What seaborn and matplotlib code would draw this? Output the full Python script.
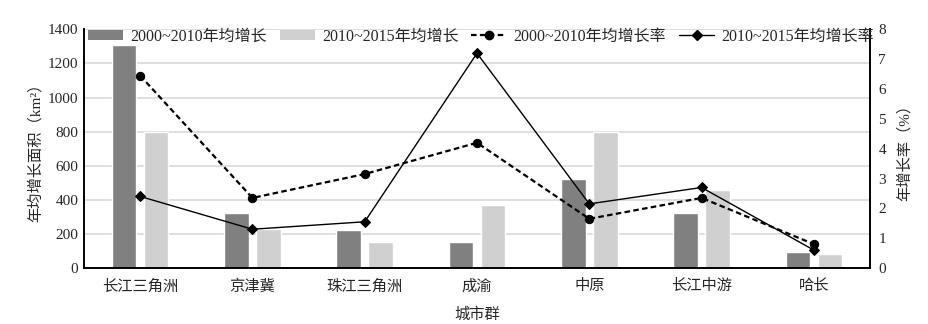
import numpy as np
import pandas as pd
import matplotlib
matplotlib.use("Agg")
import matplotlib.pyplot as plt
import seaborn as sns
from matplotlib.lines import Line2D
from matplotlib.patches import Patch

cities = ["长江三角洲", "京津冀", "珠江三角洲", "成渝", "中原", "长江中游", "哈长"]
area_2000_2010 = [1310, 320, 225, 155, 520, 320, 95]
area_2010_2015 = [800, 230, 150, 370, 800, 455, 85]
rate_2000_2010 = [6.45, 2.35, 3.15, 4.2, 1.65, 2.35, 0.8]
rate_2010_2015 = [2.4, 1.3, 1.55, 7.2, 2.15, 2.7, 0.6]
s1 = "2000~2010年均增长"
s2 = "2010~2015年均增长"
r1 = "2000~2010年均增长率"
r2 = "2010~2015年均增长率"

sns.set_theme(style="white")
plt.rcParams["font.family"] = ["Liberation Serif", "Noto Sans CJK SC"]
plt.rcParams["font.weight"] = "medium"
plt.rcParams["axes.unicode_minus"] = False

df = pd.DataFrame({
    "city": cities * 2,
    "value": area_2000_2010 + area_2010_2015,
    "series": [s1] * len(cities) + [s2] * len(cities),
})

fig = plt.figure(figsize=(9.29, 3.24), dpi=100)
ax = fig.add_axes([0.0904, 0.1728, 0.8461, 0.7365])
c_dark, c_light = "#808080", "#d0d0d0"
sns.barplot(data=df, x="city", y="value", hue="series", order=cities,
            palette=[c_dark, c_light], width=0.57, gap=0.23, ax=ax,
            legend=False, saturation=1)
ax.set_xlim(-0.5, len(cities) - 0.5)
ax.set_ylim(0, 1400)
ax.set_yticks(np.arange(0, 1401, 200))
ax.yaxis.grid(True, color="#d9d9d9", linewidth=1.2)
ax.set_axisbelow(True)
ax.set_xticks(np.arange(len(cities)))
ax.set_xticklabels(cities)
ax.tick_params(axis="x", length=0, labelsize=11, pad=8)
ax.tick_params(axis="y", length=0, labelsize=11, pad=4)
ax.set_xticks(np.arange(len(cities) - 1) + 0.5, minor=True)
ax.tick_params(axis="x", which="minor", direction="in", length=6, width=1, color="black")
ax.set_xlabel("城市群", fontsize=11, labelpad=10)
ax.set_ylabel("年均增长面积（km²）", fontsize=11, labelpad=4)
for sp in ["left", "bottom", "right"]:
    ax.spines[sp].set_color("black")
    ax.spines[sp].set_linewidth(1.2)
ax.spines["top"].set_visible(False)

ax2 = ax.twinx()
pos = np.arange(len(cities))
sns.lineplot(x=pos, y=rate_2000_2010, ax=ax2, color="black", linestyle=(0, (2.5, 1.5)),
             linewidth=1.6, marker="o", markersize=6, markeredgecolor="black")
sns.lineplot(x=pos, y=rate_2010_2015, ax=ax2, color="black", linestyle="-",
             linewidth=1.0, marker="D", markersize=5, markeredgecolor="black")
ax2.set_ylim(0, 8)
ax2.set_yticks(np.arange(0, 9, 1))
ax2.tick_params(axis="y", length=0, labelsize=11, pad=6)
ax2.set_ylabel("年增长率（%）", fontsize=11, labelpad=8, rotation=90)
ax2.grid(False)
for sp in ["left", "bottom", "right"]:
    ax2.spines[sp].set_color("black")
    ax2.spines[sp].set_linewidth(1.2)
ax2.spines["top"].set_visible(False)
ax2.set_xlim(-0.5, len(cities) - 0.5)

handles = [
    Patch(facecolor=c_dark, edgecolor="none"),
    Patch(facecolor=c_light, edgecolor="none"),
    Line2D([], [], color="black", linestyle=(0, (2.5, 1.5)), linewidth=1.6, marker="o", markersize=6),
    Line2D([], [], color="black", linestyle="-", linewidth=1.0, marker="D", markersize=5),
]
leg = ax2.legend(handles, [s1, s2, r1, r2], loc="upper center", bbox_to_anchor=(0.505, 1.03),
                 ncol=4, frameon=False, fontsize=11.5, handlelength=2.2, handleheight=0.6,
                 columnspacing=0.8, handletextpad=0.45, borderaxespad=0.0)

fig.savefig("out.png", dpi=100)
